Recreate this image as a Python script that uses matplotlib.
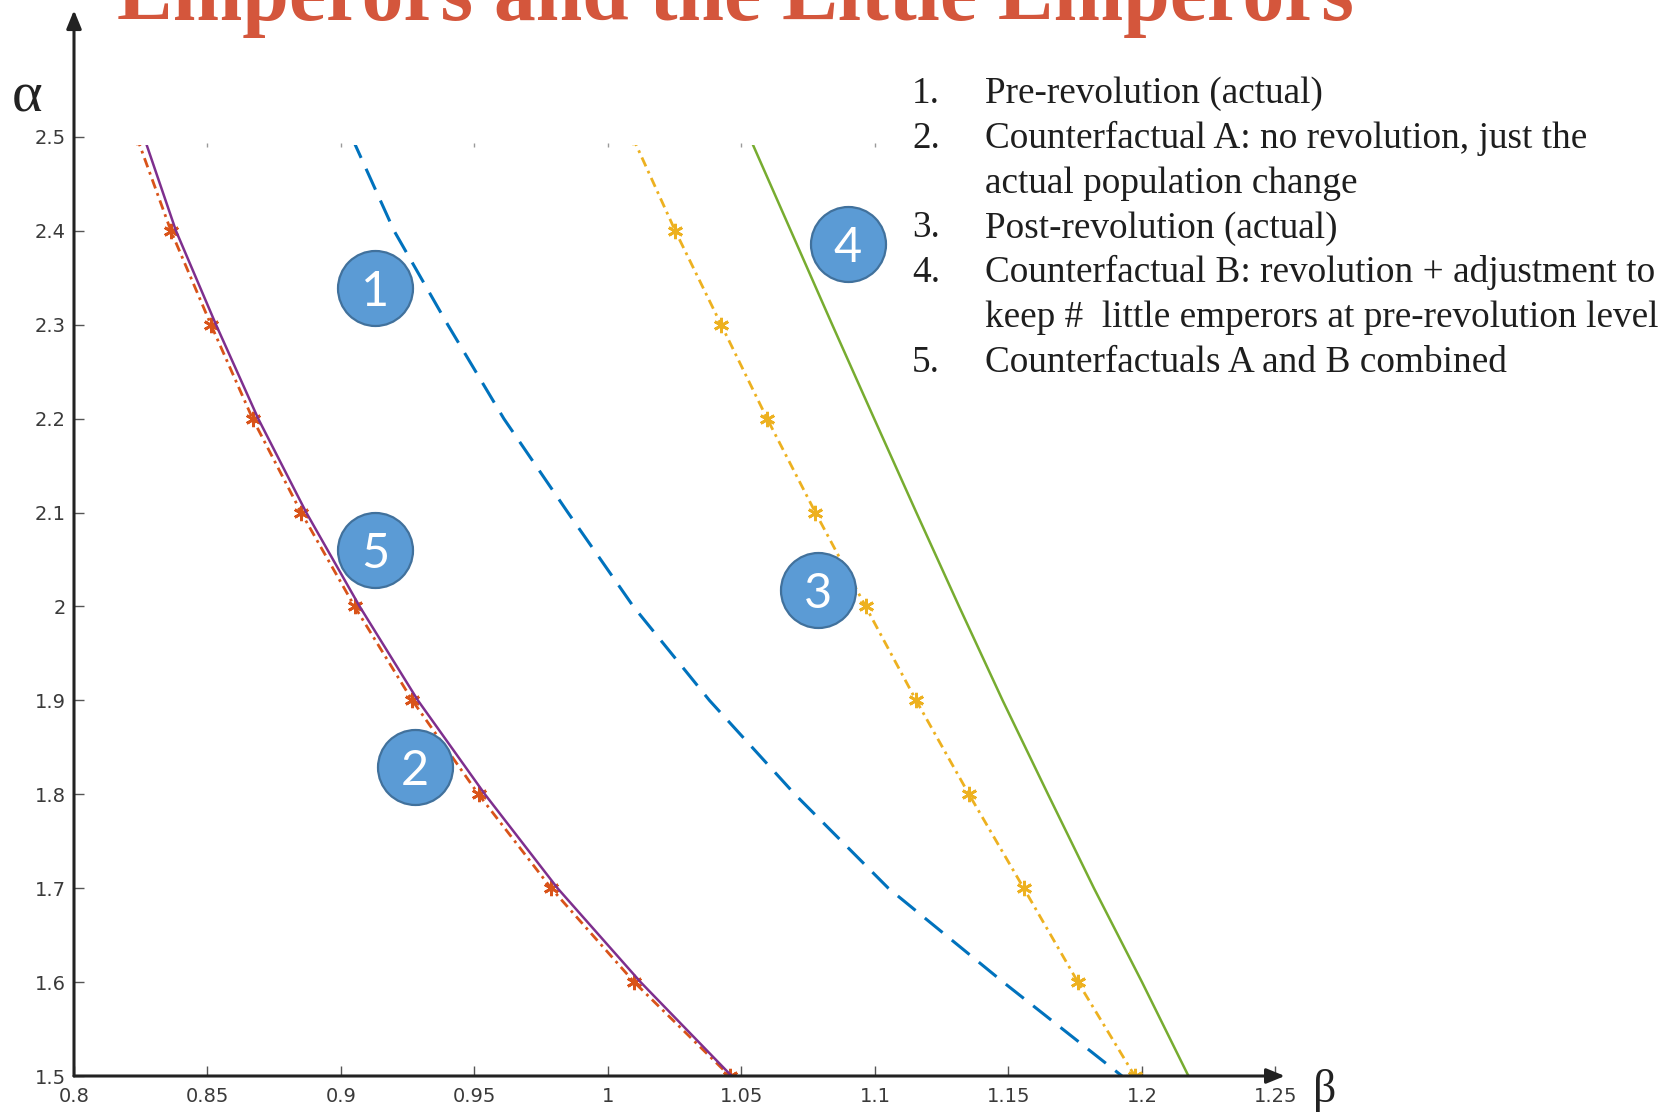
import matplotlib
matplotlib.use("Agg")
import matplotlib.pyplot as plt
from matplotlib.patches import Rectangle

plt.rcParams["lines.scale_dashes"] = False

# alpha grid shared by all curves
alpha = [2.5, 2.4, 2.3, 2.2, 2.1, 2.0, 1.9, 1.8, 1.7, 1.6, 1.5]

# beta at each alpha, one list per scenario
beta_pre = [0.904, 0.9199, 0.940, 0.961, 0.985, 1.0095, 1.038, 1.070, 1.105, 1.148, 1.1925]
beta_cf_a = [0.8235, 0.8363, 0.8513, 0.8669, 0.8851, 0.9051, 0.9267, 0.9515, 0.9787, 1.0098, 1.0456]
beta_post = [1.0092, 1.0252, 1.0424, 1.0596, 1.0777, 1.0965, 1.1154, 1.1352, 1.1557, 1.1760, 1.1973]
beta_cf_b = [1.0530, 1.0685, 1.0840, 1.0997, 1.1155, 1.1315, 1.1478, 1.1648, 1.1820, 1.2000, 1.2174]
beta_cf_ab = [0.8262, 0.8382, 0.8532, 0.8690, 0.8870, 0.9070, 0.9288, 0.9539, 0.9811, 1.0122, 1.0463]

xtick_vals = [0.8, 0.85, 0.9, 0.95, 1.0, 1.05, 1.1, 1.15, 1.2, 1.25]
xtick_labels = ["0.8", "0.85", "0.9", "0.95", "1", "1.05", "1.1", "1.15", "1.2", "1.25"]
ytick_vals = [1.5, 1.6, 1.7, 1.8, 1.9, 2.0, 2.1, 2.2, 2.3, 2.4, 2.5]
ytick_labels = ["1.5", "1.6", "1.7", "1.8", "1.9", "2", "2.1", "2.2", "2.3", "2.4", "2.5"]

legend_numbers = ["1.", "2.", "", "3.", "4.", "", "5."]
legend_lines = [
    "Pre-revolution (actual)",
    "Counterfactual A: no revolution, just the",
    "actual population change",
    "Post-revolution (actual)",
    "Counterfactual B: revolution + adjustment to",
    "keep #  little emperors at pre-revolution level",
    "Counterfactuals A and B combined",
]
badge_labels = ["1", "2", "3", "4", "5"]

title_text = "Emperors and the Little Emperors"

W, H = 1675, 1113
fig = plt.figure(figsize=(W / 100, H / 100), dpi=100)
fig.patch.set_facecolor("white")

xmin, xmax = 0.8, 1.2535
ymin, ymax = 1.5, 2.635
x0_px, y0_px = 74, 1076
px_per_x, px_per_y = 2670, 939
ax = fig.add_axes([
    x0_px / W,
    1 - y0_px / H,
    (xmax - xmin) * px_per_x / W,
    (ymax - ymin) * px_per_y / H,
])
ax.set_xlim(xmin, xmax)
ax.set_ylim(ymin, ymax)
for s in ax.spines.values():
    s.set_visible(False)

ax.set_xticks(xtick_vals)
ax.set_xticklabels(xtick_labels)
ax.set_yticks(ytick_vals)
ax.set_yticklabels(ytick_labels)
ax.tick_params(direction="in", length=7, width=1, color="#555555",
               labelsize=14, labelcolor="#3a3a3a")
ax.tick_params(axis="x", pad=8)
ax.tick_params(axis="y", pad=6)

# plotting region stops just under the top tick
clip_rect = Rectangle((0.8, 1.5), 0.5, 0.9915, transform=ax.transData)

dashdot = (0, (7, 3.6, 2, 3.6))
lines = []
lines += ax.plot(beta_pre, alpha, color="#0072BD", lw=2.2, linestyle=(0, (16.5, 8.6)))
lines += ax.plot(beta_cf_a, alpha, color="#D95319", lw=2.0, linestyle=dashdot,
                 marker=(6, 2, 0), ms=11, mew=2.0)
lines += ax.plot(beta_post, alpha, color="#EDB120", lw=2.0, linestyle=dashdot,
                 marker=(6, 2, 0), ms=11, mew=2.0)
lines += ax.plot(beta_cf_b, alpha, color="#77AC30", lw=1.8)
lines += ax.plot(beta_cf_ab, alpha, color="#7E2F8E", lw=1.8)
for ln in lines:
    ln.set_clip_path(clip_rect)

# faint tick marks along the top edge
ax.plot(xtick_vals[1:7], [2.4915] * 6, linestyle="none", marker="|", ms=2.5,
        color="#9a9a9a", mew=1)

# axis arrows
arrow = dict(arrowstyle="-|>,head_length=1.1,head_width=0.45", color="#222222",
             lw=2.2, shrinkA=0, shrinkB=0)
ax.annotate("", xy=(xmax, ymin), xytext=(xmin, ymin), arrowprops=arrow,
            annotation_clip=False)
ax.annotate("", xy=(xmin, ymax), xytext=(xmin, ymin), arrowprops=arrow,
            annotation_clip=False)

# axis symbols
fig.text(27 / W, 1 - 98 / H, "α", fontsize=42, family="Liberation Serif",
         color="#222222", ha="center", va="center")
fig.text(1325 / W, 1 - 1090 / H, "β", fontsize=33, family="Liberation Serif",
         color="#222222", ha="center", va="center")

# numbered badges on the curves
badge_pos = [(0.9127, 2.3389), (0.9278, 1.8286), (1.0787, 2.0176),
             (1.0899, 2.386), (0.9127, 2.0602)]
for lab, (bx, by) in zip(badge_labels, badge_pos):
    ax.plot([bx], [by], marker="o", ms=54, mfc="#5B9BD5", mec="#41719C",
            mew=1.6, zorder=5, clip_on=False)
    ax.text(bx, by, lab, color="white", fontsize=35, family="Lato",
            ha="center", va="center_baseline", zorder=6)

# numbered description list
baseline0 = 103.3
step = 44.7
for i, (num, txt) in enumerate(zip(legend_numbers, legend_lines)):
    yb = 1 - (baseline0 + i * step) / H
    if num:
        fig.text(912 / W, yb, num, fontsize=26.8, family="Liberation Serif",
                 color="#1e1e1e", va="baseline", ha="left")
    fig.text(985 / W, yb, txt, fontsize=26.8, family="Liberation Serif",
             color="#1e1e1e", va="baseline", ha="left")

# heading, partly above the canvas
title = fig.text(117 / W, 1 - 20 / H, title_text, fontsize=60,
                 family="Liberation Serif", weight="bold", color="#D4563C",
                 va="baseline", ha="left")
fig.canvas.draw()
tw = title.get_window_extent().width
title.set_fontsize(60 * 1237 / tw)

fig.savefig("out.png", dpi=100)
